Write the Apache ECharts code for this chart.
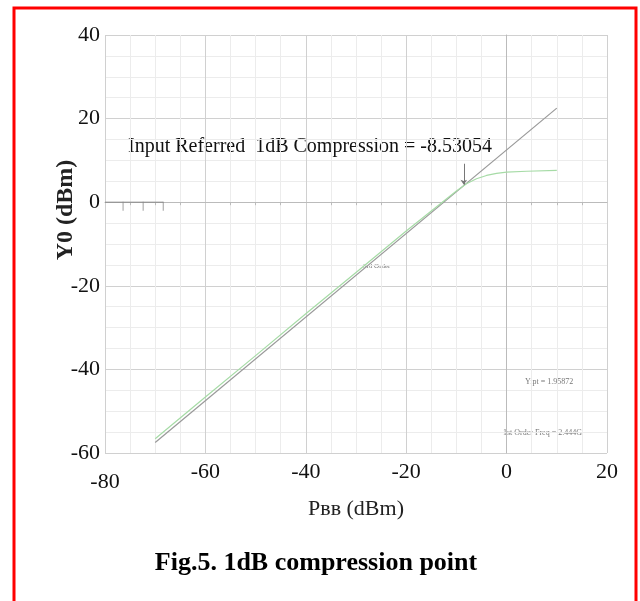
<!DOCTYPE html>
<html>
<head>
<meta charset="utf-8">
<script src="https://cdn.jsdelivr.net/npm/echarts@6/dist/echarts.min.js"></script>
<style>
html, body { margin: 0; padding: 0; background: #fff; }
#main { width: 640px; height: 601px; }
</style>
</head>
<body>
<div id="main"></div>
<script>
// linear extrapolation (grey) and measured output (green)
var linearLine = [[-70, -57.5], [10, 22.5]]
var outputLine = [
  [-70, -56.6], [-60, -46.6], [-50, -36.7], [-40, -26.7], [-30, -16.8],
  [-20, -6.9], [-15, -2.1], [-10, 2.7], [-8, 4.4], [-6, 5.6], [-4, 6.4],
  [-2, 6.9], [0, 7.2], [4, 7.4], [10, 7.6]
]
var compressionX = -8.53054
var arrowY = [9.2, 4.2]
var cursorLine = [[-80, 0], [-68.4, 0]]
var cursorTicks = [[-76.4, 0], [-72.4, 0], [-68.4, 0]]
var xTicks = [-80, -60, -40, -20, 0, 20]
var yTicks = [-60, -40, -20, 0, 20, 40]

var myChart = echarts.init(document.getElementById('main'))
var serif = '"Liberation Serif", "DejaVu Serif", serif'

myChart.setOption({
  backgroundColor: '#fff',
  animation: false,
  grid: { left: 105, right: 33, top: 35, bottom: 148 },
  xAxis: {
    type: 'value',
    min: xTicks[0],
    max: xTicks[xTicks.length - 1],
    interval: 20,
    name: 'P\u0299\u0299 (dBm)',
    nameLocation: 'middle',
    nameGap: 40,
    nameTextStyle: { fontFamily: serif, fontSize: 22, color: '#222' },
    axisLine: { show: true, lineStyle: { color: '#bbb' } },
    axisTick: { show: false },
    minorTick: { show: true, splitNumber: 4, length: 3, lineStyle: { color: '#bbb' } },
    axisLabel: {
      fontFamily: serif, fontSize: 22, color: '#111', margin: 8,
      formatter: function (v) { return v === -80 ? '{low|-80}' : String(v) },
      rich: { low: { fontFamily: serif, fontSize: 22, color: '#111', padding: [10, 0, 0, 0] } }
    },
    splitLine: { show: true, lineStyle: { color: '#d0d0d0' } },
    minorSplitLine: { show: true, lineStyle: { color: '#ececec' } }
  },
  yAxis: {
    type: 'value',
    min: yTicks[0],
    max: yTicks[yTicks.length - 1],
    interval: 20,
    axisLine: { show: true, lineStyle: { color: '#bbb' } },
    axisTick: { show: false },
    axisLabel: { fontFamily: serif, fontSize: 22, color: '#111', margin: 5 },
    splitLine: { show: true, lineStyle: { color: '#d0d0d0' } },
    minorTick: { show: false, splitNumber: 4 },
    minorSplitLine: { show: true, lineStyle: { color: '#ececec' } }
  },
  series: [
    {
      name: 'linear',
      type: 'line',
      data: linearLine,
      showSymbol: false,
      lineStyle: { color: '#999', width: 1.2 },
      z: 3,
      markLine: {
        silent: true,
        symbol: ['none', 'arrow'],
        symbolSize: 5,
        label: { show: false },
        lineStyle: { color: '#777', width: 1, type: 'solid' },
        data: [[{ coord: [compressionX, arrowY[0]] }, { coord: [compressionX, arrowY[1]] }]]
      }
    },
    {
      name: 'output',
      type: 'line',
      data: outputLine,
      showSymbol: false,
      lineStyle: { color: '#a6dba6', width: 1.2 },
      z: 4
    },
    {
      name: 'cursor',
      type: 'line',
      data: cursorLine,
      showSymbol: false,
      lineStyle: { color: '#888', width: 1 },
      z: 5
    },
    {
      name: 'cursorTicks',
      type: 'scatter',
      data: cursorTicks,
      symbol: 'rect',
      symbolSize: [1, 9],
      symbolOffset: [0, 4],
      itemStyle: { color: '#888' },
      z: 5
    }
  ],
  graphic: [
    {
      type: 'polyline',
      shape: { points: [[14, 601], [14, 8], [636, 8], [636, 601]] },
      style: { stroke: '#ff0000', lineWidth: 3, fill: null }
    },
    {
      type: 'text', left: 128, top: 137,
      style: { text: 'Input Referred  1dB Compression = -8.53054', font: '20px ' + serif, fill: '#111' }
    },
    {
      type: 'text', x: 66, y: 210, rotation: Math.PI / 2,
      style: { text: 'Y0 (dBm)', font: 'bold 24px ' + serif, fill: '#222', align: 'center', verticalAlign: 'middle' }
    },
    {
      type: 'text', left: 363, top: 263,
      style: { text: '3rd Order', font: '7px ' + serif, fill: '#777' }
    },
    {
      type: 'text', left: 525, top: 378,
      style: { text: 'Yipt = 1.95872', font: '8px ' + serif, fill: '#777' }
    },
    {
      type: 'text', left: 503, top: 429,
      style: { text: '1st Order Freq = 2.444G', font: '8px ' + serif, fill: '#777' }
    },
    {
      type: 'text', x: 316, y: 563,
      style: { text: 'Fig.5. 1dB compression point', font: 'bold 26px ' + serif, fill: '#000', align: 'center', verticalAlign: 'middle' }
    }
  ]
})
window.onresize = myChart.resize
</script>
</body>
</html>
